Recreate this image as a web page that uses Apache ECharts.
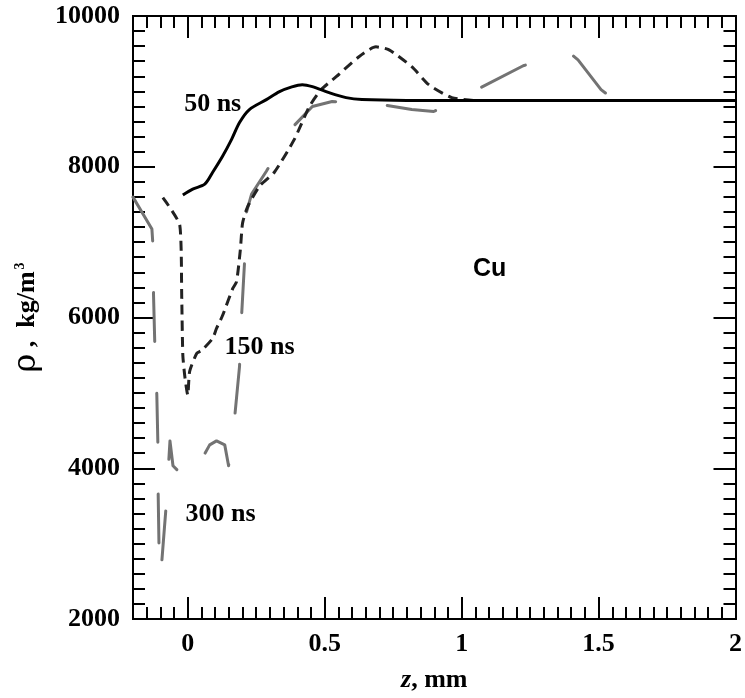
<!DOCTYPE html>
<html>
<head>
<meta charset="utf-8">
<script src="https://cdn.jsdelivr.net/npm/echarts@6/dist/echarts.min.js"></script>
<style>
html,body{margin:0;padding:0;background:#fff;}
#c{width:745px;height:698px;}
</style>
</head>
<body>
<div id="c"></div>
<script>
// ---- data ----
const z50   = [-0.018, 0.018, 0.062, 0.091, 0.127, 0.160, 0.189, 0.225, 0.287, 0.335, 0.380, 0.418, 0.455, 0.516, 0.578, 0.636, 0.800, 1.000, 1.500, 2.000];
const rho50 = [7624, 7703, 7769, 7927, 8139, 8363, 8587, 8759, 8891, 8997, 9060, 9089, 9063, 8983, 8917, 8891, 8880, 8880, 8880, 8880];

const z150   = [-0.091, -0.029, -0.022, -0.018, -0.010, 0.000, 0.007, 0.033, 0.051, 0.091, 0.105, 0.127, 0.164, 0.178, 0.192, 0.200, 0.218, 0.262, 0.316, 0.389, 0.444, 0.487, 0.542, 0.625, 0.687, 0.735, 0.818, 0.880, 0.964, 1.050, 1.500, 2.000];
const rho150 = [7590, 7220, 6250, 5498, 5195, 4970, 5287, 5525, 5564, 5723, 5855, 6026, 6383, 6475, 6900, 7250, 7465, 7743, 7927, 8363, 8799, 9023, 9195, 9459, 9591, 9551, 9327, 9089, 8917, 8880, 8880, 8880];

const z300   = [-0.200, -0.131, -0.127, -0.125, -0.120, -0.113, -0.109, -0.108, -0.105, -0.100, -0.0945, -0.080, -0.065, -0.054, -0.036, 0.007, 0.058, 0.080, 0.105, 0.135, 0.149, 0.171, 0.189, 0.196, 0.207, 0.2145, 0.233, 0.287, 0.382, 0.455, 0.527, 0.709, 0.818, 0.898, 1.055, 1.225, 1.389, 1.425, 1.509, 1.560, 2.000];
const rho300 = [7597, 7175, 6950, 6290, 5591, 4970, 4297, 3637, 2951, 2555, 2779, 3452, 4363, 4033, 3967, 3809, 4165, 4310, 4363, 4310, 4033, 4667, 5353, 5987, 6713, 7399, 7637, 7940, 8522, 8799, 8865, 8825, 8759, 8733, 9023, 9340, 9525, 9419, 9023, 8880, 8880];

const labelText = ['50 ns', '150 ns', '300 ns', 'Cu'];
const labelZ    = [0.091, 0.262, 0.120, 1.102];
const labelRho  = [8825, 5604, 3386, 6647];

const xMajorTicks = [0, 0.5, 1, 1.5, 2];
const yMajorTicks = [2000, 4000, 6000, 8000, 10000];

// ---- chart ----
const pairs = (xs, ys) => xs.map((x, i) => [x, ys[i]]);
const serif = 'Liberation Serif';
const axisLine = {show: true, onZero: false, lineStyle: {color: '#000', width: 2}};

function xAx(pos, major, withLabel) {
  const a = {
    type: 'value', min: -0.2, max: 2, position: pos,
    axisLine: axisLine,
    splitLine: {show: false},
    axisTick: {show: true, inside: true, length: major ? 22 : 12, lineStyle: {color: '#000', width: 2}},
    axisLabel: {show: false}
  };
  if (major) {
    a.axisTick.customValues = xMajorTicks;
  } else {
    a.interval = 0.05;
  }
  if (withLabel) {
    a.axisLabel = {show: true, customValues: xMajorTicks, margin: 12,
      color: '#000', fontFamily: serif, fontWeight: 'bold', fontSize: 26,
      formatter: v => String(v)};
    a.name = '{i|z}{t|, mm}';
    a.nameLocation = 'middle';
    a.nameGap = 48;
    a.nameTextStyle = {rich: {
      i: {fontFamily: serif, fontStyle: 'italic', fontWeight: 'bold', fontSize: 26, color: '#000'},
      t: {fontFamily: serif, fontWeight: 'bold', fontSize: 26, color: '#000'}
    }};
  }
  return a;
}
function yAx(pos, major, withLabel) {
  const a = {
    type: 'value', min: 2000, max: 10000, position: pos,
    axisLine: axisLine,
    splitLine: {show: false},
    axisTick: {show: true, inside: true, length: major ? 22 : 12, lineStyle: {color: '#000', width: 2}},
    axisLabel: {show: false}
  };
  if (major) {
    a.interval = 2000;
    a.axisTick.customValues = yMajorTicks;
  } else {
    a.interval = 200;
  }
  if (withLabel) {
    a.axisLabel = {show: true, customValues: yMajorTicks, margin: 13, color: '#000',
      fontFamily: serif, fontWeight: 'bold', fontSize: 26, formatter: v => String(v)};
    a.name = '{r|ρ}{t| ,  kg/m}{s|3}';
    a.nameLocation = 'middle';
    a.nameGap = 90;
    a.nameTextStyle = {rich: {
      r: {fontFamily: 'DejaVu Serif', fontSize: 32, color: '#000'},
      t: {fontFamily: serif, fontWeight: 'bold', fontSize: 26, color: '#000'},
      s: {fontFamily: serif, fontWeight: 'bold', fontSize: 14, color: '#000', padding: [0, 0, 13, 2]}
    }};
  }
  return a;
}

const chart = echarts.init(document.getElementById('c'), null, {renderer: 'canvas'});
chart.setOption({
  animation: false,
  backgroundColor: '#fff',
  grid: {left: 133, right: 7, top: 16, bottom: 76, containLabel: false},
  xAxis: [xAx('bottom', false, false), xAx('bottom', true, true), xAx('top', false, false), xAx('top', true, false)],
  yAxis: [yAx('left', false, false), yAx('left', true, true), yAx('right', false, false), yAx('right', true, false)],
  series: [
    {name: '300 ns', type: 'line', xAxisIndex: 0, yAxisIndex: 0, data: pairs(z300, rho300),
     symbol: 'none', smooth: false,
     lineStyle: {color: '#737373', width: 3, type: [49, 51.7], dashOffset: 0, cap: 'round', join: 'round'}},
    {name: '150 ns', type: 'line', xAxisIndex: 0, yAxisIndex: 0, data: pairs(z150, rho150),
     symbol: 'none', smooth: 0.2,
     lineStyle: {color: '#222', width: 3, type: [10, 6]}},
    {name: '50 ns', type: 'line', xAxisIndex: 0, yAxisIndex: 0, data: pairs(z50, rho50),
     symbol: 'none', smooth: 0.3,
     lineStyle: {color: '#000', width: 3, type: 'solid'}},
    {name: 'labels', type: 'scatter', xAxisIndex: 0, yAxisIndex: 0, symbolSize: 0,
     data: labelText.map((t, i) => ({
       value: [labelZ[i], labelRho[i]], name: t,
       label: t === 'Cu'
         ? {color: '#000', fontFamily: 'Liberation Sans', fontWeight: 'bold', fontSize: 25}
         : {color: '#000', fontFamily: serif, fontWeight: 'bold', fontSize: 26}
     })),
     label: {show: true, position: 'inside', color: '#000', formatter: p => p.name},
     itemStyle: {opacity: 1},
     silent: true}
  ]
});
</script>
</body>
</html>
